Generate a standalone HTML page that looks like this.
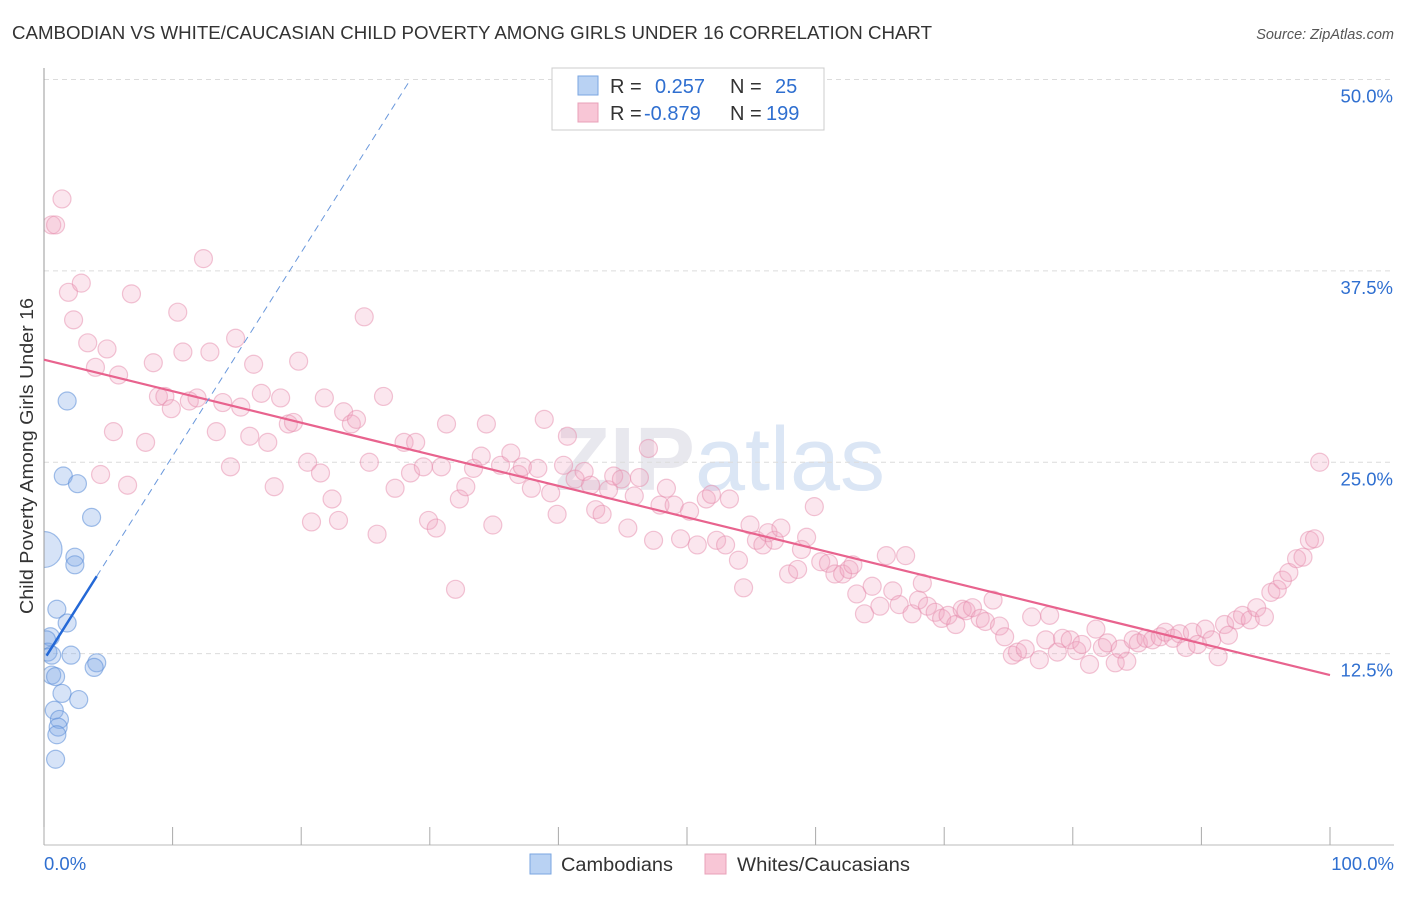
<!DOCTYPE html>
<html><head><meta charset="utf-8"><style>
body{margin:0;background:#fff;font-family:"Liberation Sans",sans-serif}
svg text{font-family:"Liberation Sans",sans-serif}
</style></head><body>
<svg width="1406" height="892">
<text x="12" y="39" font-size="18" fill="#333" textLength="920" lengthAdjust="spacingAndGlyphs">CAMBODIAN VS WHITE/CAUCASIAN CHILD POVERTY AMONG GIRLS UNDER 16 CORRELATION CHART</text>
<text x="1394" y="39" font-size="14.5" fill="#555" font-style="italic" text-anchor="end">Source: ZipAtlas.com</text>
<text x="720" y="490" font-size="90" fill="#e8e8ee" text-anchor="middle" font-weight="bold">ZIP<tspan fill="#dbe6f5" font-weight="normal">atlas</tspan></text>
<g id="grid"></g><g id="pts"></g>
<rect x="0" y="60" width="44" height="790" fill="#fff"/>
<g id="axes"></g><g id="trend"></g>
<text transform="translate(33,456) rotate(-90)" font-size="18" fill="#333" text-anchor="middle" textLength="316" lengthAdjust="spacingAndGlyphs">Child Poverty Among Girls Under 16</text>
<g>
<rect x="552" y="68" width="272" height="62" fill="#fff" stroke="#ccc"/>
<rect x="578" y="76" width="20" height="19" fill="#b9d2f3" stroke="#7aa6e0"/>
<rect x="578" y="103" width="20" height="19" fill="#f8c6d6" stroke="#e8a0b8"/>
<text x="610" y="93" font-size="20" fill="#333">R = <tspan fill="#2f6fd0" x="655">0.257</tspan><tspan x="730" fill="#333">N = </tspan><tspan x="775" fill="#2f6fd0">25</tspan></text>
<text x="610" y="120" font-size="20" fill="#333">R = <tspan fill="#2f6fd0" x="644">-0.879</tspan><tspan x="730" fill="#333">N = </tspan><tspan x="766" fill="#2f6fd0">199</tspan></text>
</g>
<g>
<rect x="530" y="854" width="21" height="20" fill="#b9d2f3" stroke="#7aa6e0"/>
<text x="561" y="871" font-size="19" fill="#333" textLength="112" lengthAdjust="spacingAndGlyphs">Cambodians</text>
<rect x="705" y="854" width="21" height="20" fill="#f8c6d6" stroke="#e8a0b8"/>
<text x="737" y="871" font-size="19" fill="#333" textLength="173" lengthAdjust="spacingAndGlyphs">Whites/Caucasians</text>
</g>
</svg>
<script>
const yTicks=[12.5,25,37.5,50];
const yTickLabels=["12.5%","25.0%","37.5%","50.0%"];
const xEndLabels=["0.0%","100.0%"];
const blueX=[1.8,1.5,2.6,3.7,2.4,2.4,0,1.0,1.8,0.5,0.3,0.6,2.1,4.1,3.9,0.6,0.9,1.4,2.7,0.8,1.2,1.1,1.0,0.9,0.2];
const blueY=[29.0,24.1,23.6,21.4,18.8,18.3,19.3,15.4,14.5,13.6,12.6,12.4,12.4,11.9,11.6,11.1,11.0,9.9,9.5,8.8,8.2,7.7,7.2,5.6,13.4];
const blueR=[9,9,9,9,9,9,18,9,9,9,9,9,9,9,9,9,9,9,9,9,9,9,9,9,9];
const pinkX=[1.4,0.6,0.9,1.9,2.9,2.3,6.8,12.4,3.4,4.9,4.0,5.8,8.5,10.4,10.8,12.9,14.9,16.3,24.9,19.8,5.4,7.9,4.4,6.5,8.9,9.4,9.9,11.3,11.9,13.4,13.9,15.3,14.5,16.0,16.9,17.4,18.4,19.0,19.4,17.9,20.5,20.8,21.5,21.8,22.4,22.9,23.3,23.9,24.3,25.9,26.4,25.3,27.3,28.0,28.5,28.9,29.5,29.9,30.5,30.9,31.3,32.0,32.3,32.8,33.4,34.0,34.4,34.9,35.5,36.3,36.9,37.2,37.9,38.4,38.9,39.4,39.9,40.4,40.7,41.3,42.0,42.5,42.9,43.4,43.9,44.3,44.9,45.4,45.9,46.3,47.0,47.4,47.9,48.4,49.0,49.5,50.2,50.8,51.5,51.9,52.3,53.0,53.3,54.0,54.9,54.4,55.4,55.9,56.3,56.8,57.3,57.9,58.6,58.9,59.3,59.9,60.4,61.0,61.5,62.1,62.6,62.9,63.2,63.8,64.4,65.0,65.5,66.0,66.5,67.0,67.5,68.0,68.3,68.7,69.3,69.8,70.3,70.9,71.4,71.7,72.2,72.8,73.2,73.8,74.3,74.7,75.3,75.7,76.3,76.8,77.4,77.9,78.2,78.8,79.2,79.8,80.3,80.7,81.3,81.8,82.3,82.7,83.3,83.7,84.2,84.7,85.1,85.7,86.2,86.8,87.2,87.8,88.3,88.8,89.3,89.7,90.3,90.8,91.3,91.8,92.1,92.7,93.2,93.8,94.3,94.9,95.4,95.9,96.3,96.8,97.4,97.9,98.4,98.8,99.2];
const pinkY=[42.2,40.5,40.5,36.1,36.7,34.3,36.0,38.3,32.8,32.4,31.2,30.7,31.5,34.8,32.2,32.2,33.1,31.4,34.5,31.6,27.0,26.3,24.2,23.5,29.3,29.3,28.5,29.0,29.2,27.0,28.9,28.6,24.7,26.7,29.5,26.3,29.2,27.5,27.6,23.4,25.0,21.1,24.3,29.2,22.6,21.2,28.3,27.5,27.8,20.3,29.3,25.0,23.3,26.3,24.3,26.3,24.7,21.2,20.7,24.7,27.5,16.7,22.6,23.4,24.6,25.4,27.5,20.9,24.8,25.6,24.2,24.7,23.3,24.6,27.8,23.0,21.6,24.8,26.7,23.9,24.4,23.5,21.9,21.6,23.2,24.1,23.9,20.7,22.8,24.0,25.9,19.9,22.2,23.3,22.2,20.0,21.8,19.6,22.6,22.9,19.9,19.6,22.6,18.6,20.9,16.8,19.9,19.6,20.4,19.9,20.7,17.7,18.0,19.3,20.1,22.1,18.5,18.4,17.7,17.7,18.0,18.3,16.4,15.1,16.9,15.6,18.9,16.6,15.7,18.9,15.1,16.0,17.1,15.6,15.2,14.8,15.0,14.4,15.4,15.3,15.5,14.8,14.6,16.0,14.3,13.6,12.4,12.6,12.8,14.9,12.1,13.4,15.0,12.6,13.5,13.4,12.7,13.1,11.8,14.1,12.9,13.2,11.9,12.8,12.0,13.4,13.2,13.5,13.4,13.6,13.9,13.5,13.8,12.9,13.9,13.1,14.1,13.4,12.3,14.4,13.7,14.7,15.0,14.7,15.5,14.9,16.5,16.7,17.3,17.8,18.7,18.8,19.9,20.0,25.0];
const pinkTrend=[31.7,11.1];
const blueTrend=[12.1,1.33];
const NS="http://www.w3.org/2000/svg";
const X=v=>44+v*12.86, Y=v=>845-v*15.31;
function mk(t,a,p){const e=document.createElementNS(NS,t);for(const k in a)e.setAttribute(k,a[k]);document.getElementById(p).appendChild(e);return e;}
yTicks.forEach((v,i)=>{
 const g=mk('line',{x1:44,x2:1394,y1:Y(v),y2:Y(v),stroke:'#dcdcdc','stroke-dasharray':'5,4'},'grid');
 
 
 const t=mk('text',{x:1393,y:Y(v)+23,'font-size':18.5,fill:'#2f6fd0','text-anchor':'end'},'grid');
 t.textContent=yTickLabels[i];
 
 
});
const ax=mk('line',{x1:44,x2:44,y1:68,y2:845,stroke:'#999'},'axes');


const bx=mk('line',{x1:44,x2:1394,y1:845,y2:845,stroke:'#bbb'},'axes');


for(let i=0;i<=10;i++){const tk=mk('line',{x1:X(i*10),x2:X(i*10),y1:827,y2:845,stroke:'#aaa'},'axes');
 
 }
[[0,'start',44],[100,'end',1394]].forEach((d,i)=>{const t=mk('text',{x:d[2],y:870,'font-size':18.5,fill:'#2f6fd0','text-anchor':d[1]},'axes');t.textContent=xEndLabels[i];
 
 });
pinkX.forEach((x,i)=>{const c=mk('circle',{cx:X(x),cy:Y(pinkY[i]),r:9,fill:'rgba(242,165,195,0.28)',stroke:'rgba(230,140,172,0.5)','stroke-width':1.2},'pts');
 
 });
blueX.forEach((x,i)=>{const c=mk('circle',{cx:X(x),cy:Y(blueY[i]),r:blueR[i],fill:'rgba(130,170,230,0.33)',stroke:'rgba(90,140,215,0.55)','stroke-width':1.2},'pts');
 
 });
const pt=mk('line',{x1:X(0),y1:Y(pinkTrend[0]),x2:X(100),y2:Y(pinkTrend[1]),stroke:'#e8638e','stroke-width':2.2},'trend');


const xe=(50-blueTrend[0])/blueTrend[1];
const bd=mk('line',{x1:X(4.1),y1:Y(blueTrend[0]+blueTrend[1]*4.1),x2:X(xe),y2:Y(50),stroke:'#6a98dc','stroke-width':1,'stroke-dasharray':'7,5'},'trend');


const bs=mk('line',{x1:X(0.2),y1:Y(blueTrend[0]+blueTrend[1]*0.2),x2:X(4.1),y2:Y(blueTrend[0]+blueTrend[1]*4.1),stroke:'#2468d6','stroke-width':2.5},'trend');


</script>
</body></html>
